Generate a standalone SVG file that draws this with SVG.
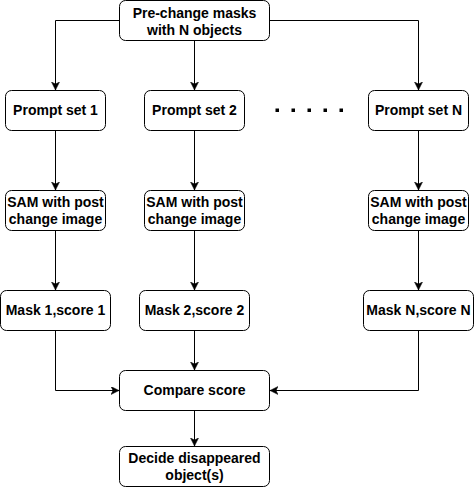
<svg xmlns="http://www.w3.org/2000/svg" width="474" height="487" viewBox="0 0 474 487">
<defs>
<style>
.box{fill:#ffffff;stroke:#000000;stroke-width:1}
.lbl{font-family:"Liberation Sans",Arial,sans-serif;font-size:14px;font-weight:bold;fill:#000000;text-anchor:middle}
.conn{fill:none;stroke:#000000;stroke-width:1}
</style>
<marker id="arr" markerUnits="userSpaceOnUse" markerWidth="10" markerHeight="10" refX="8" refY="4" orient="auto">
<path d="M0,0 L8,4 L0,8 L2,4 Z" fill="#000000" stroke="#000000" stroke-width="0.5"/>
</marker>
</defs>
<rect width="474" height="487" fill="#ffffff"/>
<g id="connectors">
<path class="conn" d="M119.5,20.5 H55.5 V90" marker-end="url(#arr)"/>
<path class="conn" d="M194.5,40.5 V90" marker-end="url(#arr)"/>
<path class="conn" d="M269.5,20.5 H418.5 V90" marker-end="url(#arr)"/>
<path class="conn" d="M55.5,130.5 V190" marker-end="url(#arr)"/>
<path class="conn" d="M194.5,130.5 V190" marker-end="url(#arr)"/>
<path class="conn" d="M418.5,130.5 V190" marker-end="url(#arr)"/>
<path class="conn" d="M55.5,230.5 V290" marker-end="url(#arr)"/>
<path class="conn" d="M194.5,230.5 V290" marker-end="url(#arr)"/>
<path class="conn" d="M418.5,230.5 V290" marker-end="url(#arr)"/>
<path class="conn" d="M55.5,330.5 V390.5 H119" marker-end="url(#arr)"/>
<path class="conn" d="M194.5,330.5 V370" marker-end="url(#arr)"/>
<path class="conn" d="M418.5,330.5 V390.5 H270" marker-end="url(#arr)"/>
<path class="conn" d="M194.5,410.5 V446" marker-end="url(#arr)"/>
</g>
<g id="pre-change">
<rect class="box" x="119.5" y="0.5" width="150" height="40" rx="6"/>
<text class="lbl" x="194.5" y="18">Pre-change masks</text>
<text class="lbl" x="194.5" y="34.5">with N objects</text>
</g>
<g id="prompt1">
<rect class="box" x="5.5" y="90.5" width="100" height="40" rx="6"/>
<text class="lbl" x="55.5" y="115">Prompt set 1</text>
</g>
<g id="prompt2">
<rect class="box" x="144.5" y="90.5" width="100" height="40" rx="6"/>
<text class="lbl" x="194.5" y="115">Prompt set 2</text>
</g>
<g id="ellipsis">
<rect x="275.5" y="108.5" width="3.5" height="3.5" fill="#000000"/>
<rect x="291.5" y="108.5" width="3.5" height="3.5" fill="#000000"/>
<rect x="307.5" y="108.5" width="3.5" height="3.5" fill="#000000"/>
<rect x="323.5" y="108.5" width="3.5" height="3.5" fill="#000000"/>
<rect x="339.5" y="108.5" width="3.5" height="3.5" fill="#000000"/>
</g>
<g id="promptN">
<rect class="box" x="368.5" y="90.5" width="100" height="40" rx="6"/>
<text class="lbl" x="418.5" y="115">Prompt set N</text>
</g>
<g id="sam1">
<rect class="box" x="5.5" y="190.5" width="100" height="40" rx="6"/>
<text class="lbl" x="55.5" y="207">SAM with post</text>
<text class="lbl" x="55.5" y="223.5">change image</text>
</g>
<g id="sam2">
<rect class="box" x="144.5" y="190.5" width="100" height="40" rx="6"/>
<text class="lbl" x="194.5" y="207">SAM with post</text>
<text class="lbl" x="194.5" y="223.5">change image</text>
</g>
<g id="samN">
<rect class="box" x="368.5" y="190.5" width="100" height="40" rx="6"/>
<text class="lbl" x="418.5" y="207">SAM with post</text>
<text class="lbl" x="418.5" y="223.5">change image</text>
</g>
<g id="mask1">
<rect class="box" x="0.5" y="290.5" width="110" height="40" rx="6"/>
<text class="lbl" x="55.5" y="315">Mask 1,score 1</text>
</g>
<g id="mask2">
<rect class="box" x="139.5" y="290.5" width="110" height="40" rx="6"/>
<text class="lbl" x="194.5" y="315">Mask 2,score 2</text>
</g>
<g id="maskN">
<rect class="box" x="363.5" y="290.5" width="110" height="40" rx="6"/>
<text class="lbl" x="418.5" y="315">Mask N,score N</text>
</g>
<g id="compare">
<rect class="box" x="119.5" y="370.5" width="150" height="40" rx="6"/>
<text class="lbl" x="194.5" y="395">Compare score</text>
</g>
<g id="decide">
<rect class="box" x="119.5" y="446.5" width="150" height="40" rx="6"/>
<text class="lbl" x="194.5" y="463">Decide disappeared</text>
<text class="lbl" x="194.5" y="479.5">object(s)</text>
</g>
</svg>
